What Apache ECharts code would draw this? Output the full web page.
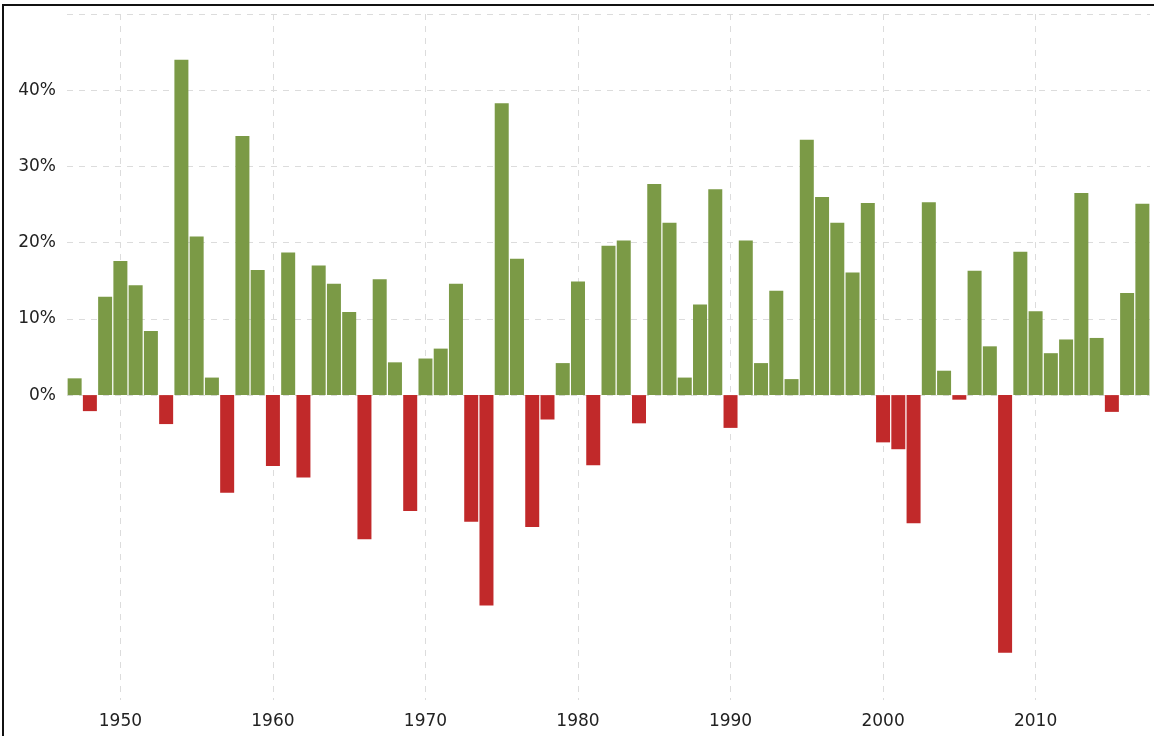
<!DOCTYPE html>
<html>
<head>
<meta charset="utf-8">
<script src="https://cdn.jsdelivr.net/npm/echarts@6/dist/echarts.min.js"></script>
<style>
  html, body { margin: 0; padding: 0; background: #fff; }
  .frame { position: relative; width: 1154px; height: 736px; overflow: hidden; }
  #chart { position: absolute; left: 0; top: 0; width: 1154px; height: 736px; }
  .edge-left { position: absolute; left: 2px; top: 4px; width: 2px; height: 732px; background: #111; }
  .edge-top { position: absolute; left: 2px; top: 4px; width: 1152px; height: 2px; background: #111; }
</style>
</head>
<body>
<div class="frame">
  <div id="chart"></div>
  <div class="edge-left"></div>
  <div class="edge-top"></div>
</div>
<script>
// yearly % change
const years = [
  1947, 1948, 1949, 1950, 1951, 1952, 1953, 1954, 1955, 1956,
  1957, 1958, 1959, 1960, 1961, 1962, 1963, 1964, 1965, 1966,
  1967, 1968, 1969, 1970, 1971, 1972, 1973, 1974, 1975, 1976,
  1977, 1978, 1979, 1980, 1981, 1982, 1983, 1984, 1985, 1986,
  1987, 1988, 1989, 1990, 1991, 1992, 1993, 1994, 1995, 1996,
  1997, 1998, 1999, 2000, 2001, 2002, 2003, 2004, 2005, 2006,
  2007, 2008, 2009, 2010, 2011, 2012, 2013, 2014, 2015, 2016, 2017
]
const returns = [
  2.2, -2.1, 12.9, 17.6, 14.4, 8.4, -3.8, 44.0, 20.8, 2.3,
  -12.8, 34.0, 16.4, -9.3, 18.7, -10.8, 17.0, 14.6, 10.9, -18.9,
  15.2, 4.3, -15.2, 4.8, 6.1, 14.6, -16.6, -27.6, 38.3, 17.9,
  -17.3, -3.2, 4.2, 14.9, -9.2, 19.6, 20.3, -3.7, 27.7, 22.6,
  2.3, 11.9, 27.0, -4.3, 20.3, 4.2, 13.7, 2.1, 33.5, 26.0,
  22.6, 16.1, 25.2, -6.2, -7.1, -16.8, 25.3, 3.2, -0.6, 16.3,
  6.4, -33.8, 18.8, 11.0, 5.5, 7.3, 26.5, 7.5, -2.2, 13.4, 25.1
]
const gridLevels = [0, 10, 20, 30, 40, 50]
const yLabels = [0, 10, 20, 30, 40]

const chart = echarts.init(document.getElementById('chart'))

const option = {
  animation: false,
  backgroundColor: '#fff',
  grid: { left: 67, right: 4, top: 14, bottom: 36 },
  xAxis: {
    type: 'value',
    min: 1946.5,
    max: 2017.5,
    axisLine: { show: false },
    axisTick: { show: false },
    axisLabel: {
      color: '#222',
      fontFamily: 'DejaVu Sans',
      fontSize: 17,
      margin: 13,
      showMinLabel: false,
      showMaxLabel: false,
      formatter: (v) => (v % 10 === 0 ? String(v) : '')
    },
    splitLine: {
      show: true,
      showMinLine: false,
      showMaxLine: false,
      lineStyle: { color: '#dcdcdc', type: [6, 6], width: 1 }
    }
  },
  yAxis: {
    type: 'value',
    min: -40,
    max: 50,
    interval: 10,
    axisLine: { show: false },
    axisTick: { show: false },
    splitLine: { show: false },
    axisLabel: {
      color: '#222',
      fontFamily: 'DejaVu Sans',
      fontSize: 17,
      margin: 11,
      formatter: (v) => (yLabels.includes(v) ? v + '%' : '')
    }
  },
  series: [
    {
      type: 'bar',
      barWidth: 14,
      data: years.map((y, i) => [y, returns[i]]),
      itemStyle: {
        color: (p) => (p.value[1] >= 0 ? '#7b9a46' : '#c1292a')
      },
      markLine: {
        silent: true,
        z: 1,
        symbol: 'none',
        label: { show: false },
        lineStyle: { color: '#dcdcdc', type: [6, 6], width: 1 },
        data: gridLevels.map((v) => ({ yAxis: v }))
      },
      z: 3
    }
  ]
}

chart.setOption(option)
</script>
</body>
</html>
